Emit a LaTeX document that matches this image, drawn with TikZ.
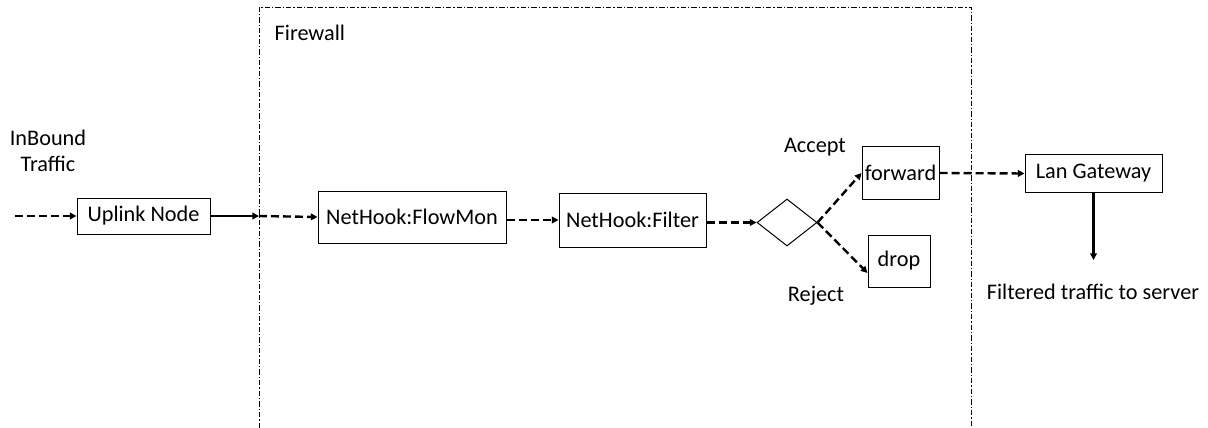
\documentclass[tikz,border=0pt]{standalone}
\usepackage{fontspec}
\setmainfont{Carlito}
\usetikzlibrary{arrows.meta,shapes.geometric}

\begin{document}
\begin{tikzpicture}[x=0.75pt,y=-0.75pt,
    font=\fontsize{16.7}{20}\selectfont,
    box/.style={draw,line width=0.75pt,inner sep=0pt},
    flow/.style={line width=1.8pt,dash pattern=on 6pt off 3pt,-{Triangle[length=5pt,width=5pt]}},
    push/.style={line width=1.8pt,-{Triangle[length=5pt,width=5pt]}},
    wall/.style={line width=0.5pt,dash pattern=on 4pt off 1.5pt on 1pt off 1.5pt}]
    \def\px{0.75pt}

    \useasboundingbox (0,0) rectangle (1208,428);

    % firewall region, left open at the bottom
    \draw[wall] (259,428) -- (259,7) -- (971,7) -- (971,428);
    \node[anchor=west] (fw) at (270,33) {Firewall};

    \node[align=center] (in) at (48,151) {InBound\\Traffic};
    \coordinate (src) at (15,216);
    \coordinate (edge) at (259,216);

    \node[box,minimum width=133*\px,minimum height=36*\px] (uplink) at (143.5,216) {Uplink Node};
    \node[box,minimum width=188*\px,minimum height=52*\px] (flowmon) at (412,217) {NetHook:FlowMon};
    \node[box,minimum width=147*\px,minimum height=54*\px] (filter) at (632.5,220) {NetHook:Filter};
    \node[draw,diamond,line width=0.75pt,inner sep=0pt,aspect=1.28,
          minimum width=60*\px,minimum height=47*\px] (decide) at (787,222.5) {};
    \node[box,minimum width=77*\px,minimum height=52*\px] (forward) at (900.5,173) {forward};
    \node[box,minimum width=62*\px,minimum height=52*\px] (drop) at (899,261) {drop};
    \node[box,minimum width=137*\px,minimum height=37*\px] (lan) at (1093.5,173.5) {Lan Gateway};
    \coordinate (sink) at (1093.5,260);

    \node (accept) at (815,147) {Accept};
    \node (reject) at (816,296) {Reject};
    \node (server) at (1093,292) {Filtered traffic to server};

    \draw[flow] (src) -- (uplink.west);
    \draw[push] (uplink.east) -- (edge);
    \draw[flow] (edge) -- (flowmon.west);
    \draw[flow] (flowmon.east |- filter.west) -- (filter.west);
    \draw[flow] (filter.east |- decide.west) -- (decide.west);
    \draw[flow] (decide.east) -- (forward.west);
    \draw[flow] (decide.east) -- ([yshift=-9pt]drop.west);
    \draw[flow] (forward.east) -- (lan.west);
    \draw[push] (lan.south) -- (sink);
\end{tikzpicture}
\end{document}
